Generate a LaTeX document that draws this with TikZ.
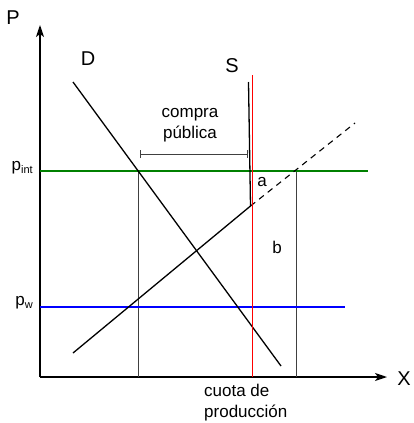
\documentclass[tikz,border=0pt]{standalone}
\usepackage{fontspec}
\setmainfont{Liberation Sans}
\usetikzlibrary{arrows.meta}
\begin{document}
\begin{tikzpicture}[x=1pt,y=-1pt]
    \newcommand{\labelsize}[0]{\fontsize{17}{21}\selectfont}
    \newcommand{\axissize}[0]{\fontsize{20}{24}\selectfont}
    \newcommand{\subsize}[0]{\fontsize{11}{12}\selectfont}

    \tikzstyle{axis}=[line width=1.4pt,-{Stealth[length=12pt,width=8pt,inset=3pt]}]
    \tikzstyle{curve}=[line width=1.3pt,draw=black]
    \tikzstyle{guide}=[line width=0.9pt,draw=black!75]
    \tikzstyle{price}=[line width=1.3pt]
    \tikzstyle{axislabel}=[inner sep=0pt,font=\axissize]
    \tikzstyle{textlabel}=[inner sep=0pt,font=\labelsize]

    \useasboundingbox (0,0) rectangle (414,423);

    % axes
    \coordinate (origin) at (40,377);
    \coordinate (ytop) at (40,25);
    \coordinate (xend) at (387,377);
    \draw[axis] (origin) -- (ytop);
    \draw[axis] (origin) -- (xend);
    \node[axislabel] (plabel) at (13,18) {P};
    \node[axislabel] (xlabel) at (404,379) {X};

    % price lines
    \coordinate (pintleft) at (40,171);
    \coordinate (pintright) at (368,171);
    \coordinate (pwleft) at (40,307);
    \coordinate (pwright) at (345,307);
    \node[textlabel,anchor=east] (pint) at (33,168) {p\raisebox{-2.5pt}{\subsize int}};
    \node[textlabel,anchor=east] (pw) at (33,303) {p\raisebox{-2.5pt}{\subsize w}};

    % guides down to the axis
    \coordinate (dcross) at (138,171);
    \coordinate (dcrossbase) at (138,377);
    \coordinate (scross) at (296,171);
    \coordinate (scrossbase) at (296,377);
    \draw[guide] (dcross) -- (dcrossbase);
    \draw[guide] (scross) -- (scrossbase);

    \draw[price,draw=green!50!black] (pintleft) -- (pintright);
    \draw[price,draw=blue] (pwleft) -- (pwright);

    % demand
    \coordinate (dtop) at (73,82);
    \coordinate (dbottom) at (281,366);
    \draw[curve] (dtop) -- (dbottom);
    \node[axislabel] (dlabel) at (88,59) {D};

    % supply with quota
    \coordinate (sbottom) at (73,353);
    \coordinate (skink) at (250.5,206);
    \coordinate (stop) at (248.5,82);
    \coordinate (sfree) at (355,123);
    \draw[curve] (sbottom) -- (skink) -- (stop);
    \draw[curve,line width=1.1pt,dash pattern=on 6pt off 5pt] (skink) -- (sfree);
    \node[axislabel] (slabel) at (232,66) {S};

    % quota
    \coordinate (quotatop) at (252.5,75);
    \coordinate (quotabase) at (252.5,377);
    \draw[price,draw=red] (quotatop) -- (quotabase);
    \node[textlabel,anchor=west,align=left] (quota) at (204,403) {cuota de\\producción};

    % public purchase
    \coordinate (buyleft) at (140,154);
    \coordinate (buyright) at (248,154);
    \draw[guide,{Bar[width=8pt]}-{Bar[width=8pt]}] (buyleft) -- (buyright);
    \node[textlabel,align=center] (buy) at (190,125) {compra\\pública};

    \node[textlabel] (areaa) at (262,182) {a};
    \node[textlabel] (areab) at (277,247) {b};
\end{tikzpicture}
\end{document}
